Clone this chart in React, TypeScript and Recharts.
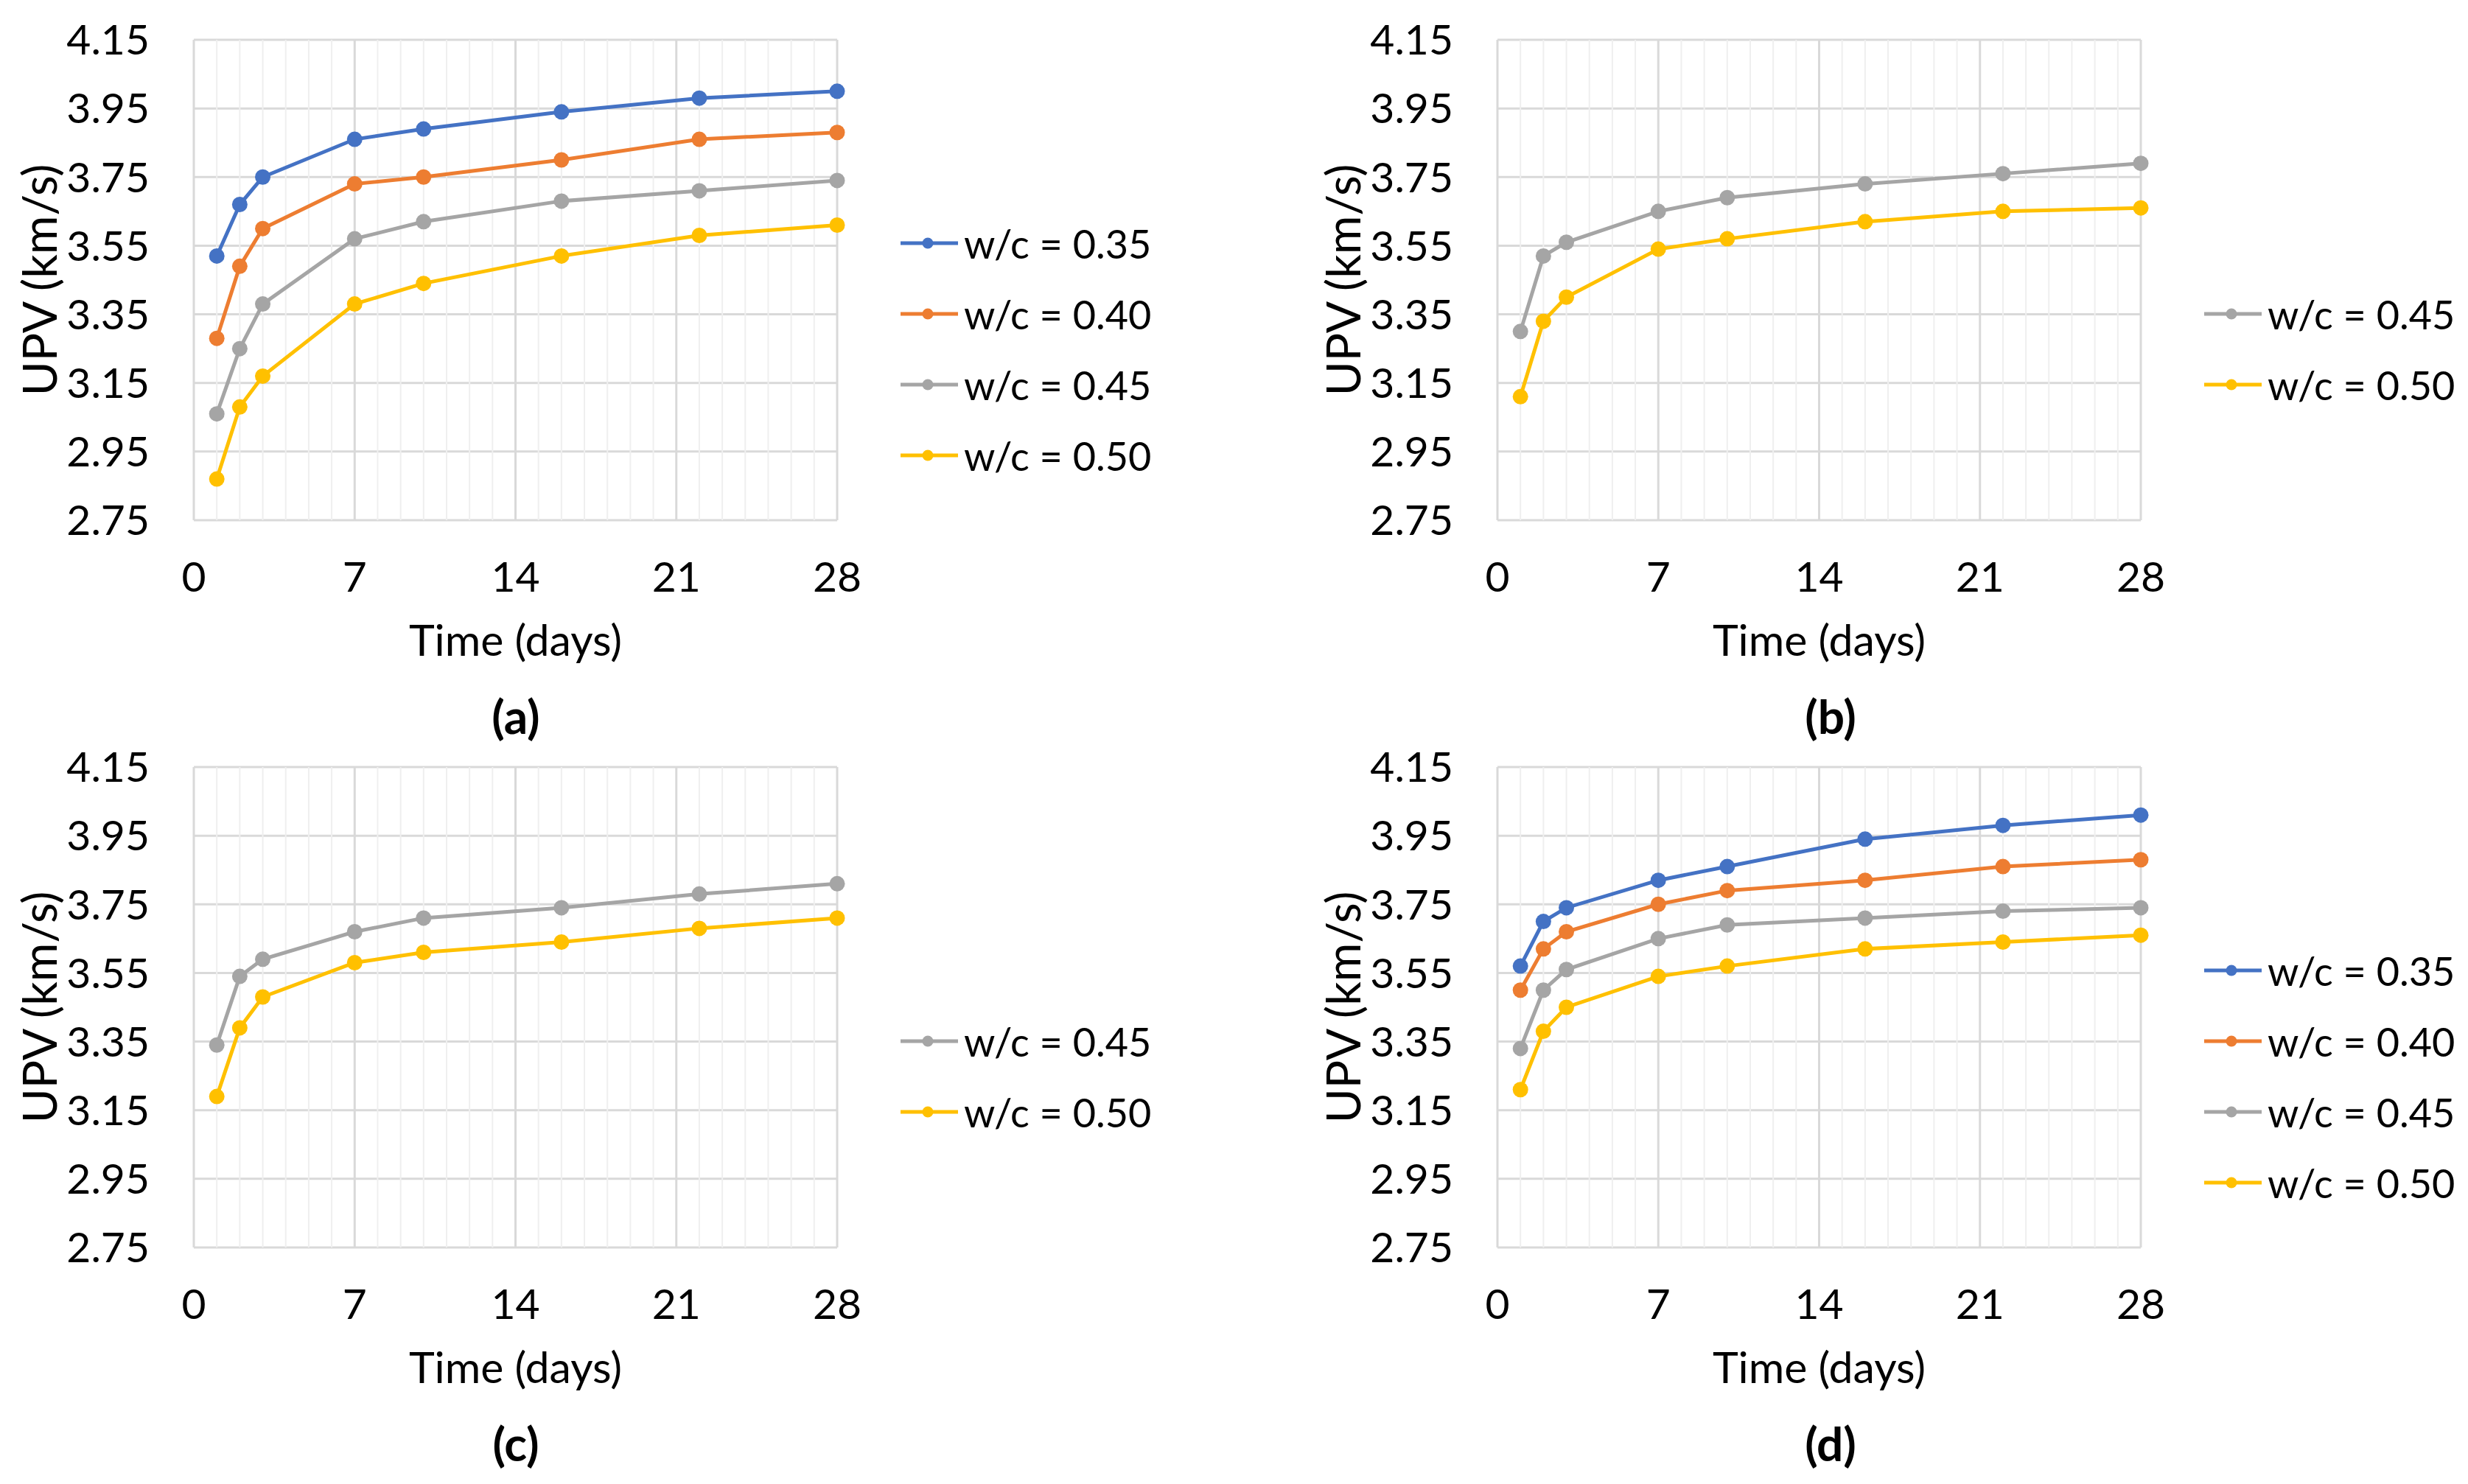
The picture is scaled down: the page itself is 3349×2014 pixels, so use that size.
import {
  CartesianGrid,
  Legend,
  Line,
  LineChart,
  ReferenceLine,
  XAxis,
  YAxis,
} from "recharts";

// sampling days (same for all panels)
const DAYS = [1, 2, 3, 7, 10, 16, 22, 28];

// (a)
const A_035 = [3.52, 3.67, 3.75, 3.86, 3.89, 3.94, 3.98, 4.0];
const A_040 = [3.28, 3.49, 3.6, 3.73, 3.75, 3.8, 3.86, 3.88];
const A_045 = [3.06, 3.25, 3.38, 3.57, 3.62, 3.68, 3.71, 3.74];
const A_050 = [2.87, 3.08, 3.17, 3.38, 3.44, 3.52, 3.58, 3.61];
// (b)
const B_045 = [3.3, 3.52, 3.56, 3.65, 3.69, 3.73, 3.76, 3.79];
const B_050 = [3.11, 3.33, 3.4, 3.54, 3.57, 3.62, 3.65, 3.66];
// (c)
const C_045 = [3.34, 3.54, 3.59, 3.67, 3.71, 3.74, 3.78, 3.81];
const C_050 = [3.19, 3.39, 3.48, 3.58, 3.61, 3.64, 3.68, 3.71];
// (d)
const D_035 = [3.57, 3.7, 3.74, 3.82, 3.86, 3.94, 3.98, 4.01];
const D_040 = [3.5, 3.62, 3.67, 3.75, 3.79, 3.82, 3.86, 3.88];
const D_045 = [3.33, 3.5, 3.56, 3.65, 3.69, 3.71, 3.73, 3.74];
const D_050 = [3.21, 3.38, 3.45, 3.54, 3.57, 3.62, 3.64, 3.66];

const X_TICKS = [0, 7, 14, 21, 28];
const Y_TICKS = [2.75, 2.95, 3.15, 3.35, 3.55, 3.75, 3.95, 4.15];
const MAJOR_DAYS = [0, 7, 14, 21, 28];
const MINOR_DAYS = Array.from({ length: 29 }, (_, i) => i).filter(
  (d) => d % 7 !== 0
);

const COLORS = {
  "0.35": "#4472C4",
  "0.40": "#ED7D31",
  "0.45": "#A5A5A5",
  "0.50": "#FFC000",
};

const FONT = "Lato, 'Open Sans', sans-serif";
const TICK_FS = 57;
const LEGEND_FS = 54;

const CHART_W = 1600;
const CHART_H = 956;
const PLOT_W = 873;
const Y_AXIS_W = 263;
const TOP = 54;

type Series = { wc: keyof typeof COLORS; values: number[] };

function buildRows(series: Series[]) {
  return DAYS.map((day, i) => {
    const row: Record<string, number> = { day };
    series.forEach((s) => {
      row[s.wc] = s.values[i];
    });
    return row;
  });
}

function renderLegend(props: any) {
  const items = props.payload || [];
  return (
    <div style={{ fontFamily: FONT, fontSize: LEGEND_FS, color: "#000" }}>
      {items.map((p: any) => (
        <div
          key={p.value}
          style={{ display: "flex", alignItems: "center", height: 96 }}
        >
          <svg width={78} height={20} style={{ display: "block" }}>
            <line x1={0} x2={78} y1={10} y2={10} stroke={p.color} strokeWidth={5} />
            <circle cx={37} cy={10} r={7.5} fill={p.color} />
          </svg>
          <span style={{ marginLeft: 8, whiteSpace: "nowrap" }}>{p.value}</span>
        </div>
      ))}
    </div>
  );
}

function Panel({
  left,
  top,
  series,
  caption,
  captionX,
}: {
  left: number;
  top: number;
  series: Series[];
  caption: string;
  captionX: number;
}) {
  const rows = buildRows(series);
  const legendTop = TOP + 420 - series.length * 48;
  return (
    <div style={{ position: "absolute", left, top, width: CHART_W, height: CHART_H }}>
      <LineChart
        width={CHART_W}
        height={CHART_H}
        data={rows}
        margin={{ top: TOP, right: CHART_W - Y_AXIS_W - PLOT_W, bottom: 0, left: 0 }}
      >
        <CartesianGrid vertical={false} stroke="#d9d9d9" strokeWidth={3} />
        {MINOR_DAYS.map((d) => (
          <ReferenceLine key={"m" + d} x={d} stroke="#efefef" strokeWidth={2} />
        ))}
        {MAJOR_DAYS.map((d) => (
          <ReferenceLine key={"M" + d} x={d} stroke="#d9d9d9" strokeWidth={3} />
        ))}
        <XAxis
          type="number"
          dataKey="day"
          domain={[0, 28]}
          ticks={X_TICKS}
          axisLine={false}
          tickLine={false}
          tickSize={0}
          tickMargin={57}
          height={CHART_H - TOP - 652}
          tick={{ fill: "#000", fontSize: TICK_FS, fontFamily: FONT }}
          label={{
            value: "Time (days)",
            position: "insideTop",
            offset: 142,
            fill: "#000",
            fontSize: 59,
            fontFamily: FONT,
          }}
        />
        <YAxis
          type="number"
          domain={[2.75, 4.15]}
          ticks={Y_TICKS}
          width={Y_AXIS_W}
          axisLine={false}
          tickLine={false}
          tickSize={0}
          tickMargin={60}
          tickFormatter={(v: number) => v.toFixed(2)}
          tick={{ fill: "#000", fontSize: TICK_FS, fontFamily: FONT }}
          label={{
            value: "UPV (km/s)",
            angle: -90,
            position: "insideLeft",
            offset: 54,
            fill: "#000",
            fontSize: 64,
            fontFamily: FONT,
            style: { textAnchor: "middle" },
          }}
        />
        <Legend
          layout="vertical"
          align="center"
          verticalAlign="middle"
          content={renderLegend}
          wrapperStyle={{ left: Y_AXIS_W + PLOT_W + 86, top: legendTop, width: 420 }}
        />
        {series.map((s) => (
          <Line
            key={s.wc}
            type="linear"
            dataKey={s.wc}
            name={`w/c = ${s.wc}`}
            stroke={COLORS[s.wc]}
            strokeWidth={5}
            dot={{ r: 10.5, fill: COLORS[s.wc], stroke: COLORS[s.wc], strokeWidth: 0 }}
            activeDot={false}
            isAnimationActive={false}
          />
        ))}
      </LineChart>
      <div
        style={{
          position: "absolute",
          left: captionX - 100,
          width: 200,
          top: 972 - 38,
          textAlign: "center",
          fontFamily: FONT,
          fontSize: 64,
          fontWeight: 700,
          lineHeight: "76px",
          color: "#000",
        }}
      >
        {caption}
      </div>
    </div>
  );
}

export default function App() {
  return (
    <div
      style={{
        position: "absolute",
        left: 0,
        top: 0,
        width: 3349,
        height: 2014,
        background: "#fff",
        overflow: "hidden",
      }}
    >
      <Panel
        left={0}
        top={0}
        caption="(a)"
        captionX={700}
        series={[
          { wc: "0.35", values: A_035 },
          { wc: "0.40", values: A_040 },
          { wc: "0.45", values: A_045 },
          { wc: "0.50", values: A_050 },
        ]}
      />
      <Panel
        left={2032 - Y_AXIS_W}
        top={0}
        caption="(b)"
        captionX={2484 - (2032 - Y_AXIS_W)}
        series={[
          { wc: "0.45", values: B_045 },
          { wc: "0.50", values: B_050 },
        ]}
      />
      <Panel
        left={0}
        top={1041 - TOP}
        caption="(c)"
        captionX={700}
        series={[
          { wc: "0.45", values: C_045 },
          { wc: "0.50", values: C_050 },
        ]}
      />
      <Panel
        left={2032 - Y_AXIS_W}
        top={1041 - TOP}
        caption="(d)"
        captionX={2484 - (2032 - Y_AXIS_W)}
        series={[
          { wc: "0.35", values: D_035 },
          { wc: "0.40", values: D_040 },
          { wc: "0.45", values: D_045 },
          { wc: "0.50", values: D_050 },
        ]}
      />
    </div>
  );
}
